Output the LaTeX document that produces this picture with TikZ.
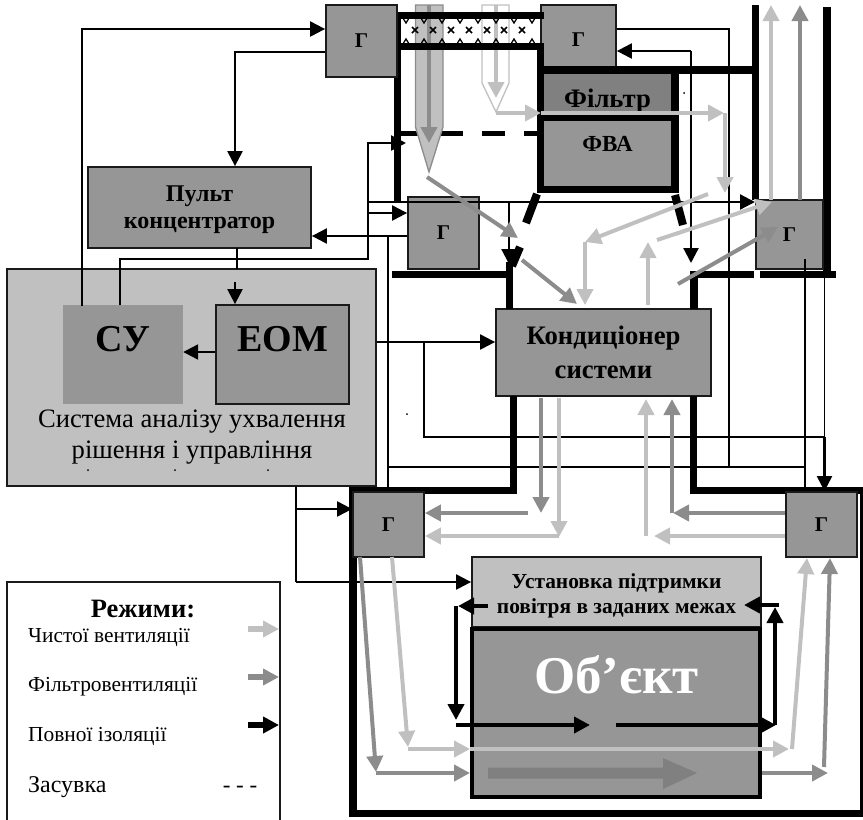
\documentclass[tikz,border=0pt]{standalone}
\usepackage{fontspec}
\setmainfont{Liberation Serif}
\usetikzlibrary{arrows.meta}
\definecolor{AirLight}{HTML}{C0C0C0}
\definecolor{AirGray}{HTML}{8C8C8C}
\definecolor{BoxGray}{HTML}{969696}
\definecolor{FiltGray}{HTML}{808080}
\definecolor{LineDark}{HTML}{1A1A1A}
\begin{document}
\begin{tikzpicture}[
  x=1pt,y=-1pt,
  box/.style={draw=LineDark,line width=1.8pt,fill=BoxGray,inner sep=0pt,
    align=center,font=\bfseries},
  panel/.style={box,fill=AirLight},
  valve/.style={box,minimum width=71pt,minimum height=70pt,font=\fontsize{21}{23}\selectfont\bfseries},
  wall/.style={line width=7.5pt,draw=black},
  flap/.style={line width=8pt,draw=black},
  clean/.style={-{Triangle[length=16pt,width=16pt]},line width=4pt,draw=AirLight},
  filtr/.style={-{Triangle[length=16pt,width=16pt]},line width=4pt,draw=AirGray},
  iso/.style={-{Triangle[length=16pt,width=16pt]},line width=4.5pt,draw=black},
  sig/.style={-{Triangle[length=15pt,width=15pt]},line width=2.2pt,draw=black},
  wire/.style={line width=1.6pt,draw=black},
  legend/.style={anchor=base west,inner sep=0pt}
]
\useasboundingbox (0,0) rectangle (863,820);

% big boxes
\node[panel,minimum width=369pt,minimum height=217pt] (sys) at (191.5,377.5) {};
\node[draw=none,fill=BoxGray,minimum width=120pt,minimum height=99pt,inner sep=0pt] (su) at (123,354.5) {};
\node[box,minimum width=133pt,minimum height=99pt] (eom) at (282.5,354.5) {};
\node[box,minimum width=223pt,minimum height=81pt] (pult) at (199.5,207.5) {};
\node[font=\fontsize{24}{27}\selectfont\bfseries,align=center,inner sep=0pt,anchor=base] (pulttext) at (199.5,228) {Пульт\\концентратор};
\node[box,minimum width=215pt,minimum height=87pt,font=\fontsize{26.7}{34}\selectfont\bfseries] (cond) at (603.5,352.5) {Кондиціонер\\системи};

% valve above the filter
\node[valve,minimum width=75pt] (g2) at (578.5,40) {Г};

% dashed damper
\draw[line width=5.5pt] (401,133.5) -- (463,133.5) (482,133.5) -- (505,133.5) (524,133.5) -- (537,133.5);

% probes
\draw[draw=AirGray,line width=1.3pt,fill=AirLight] (415.5,5) -- (443,5) -- (443,127) -- (429,172) -- (415.5,127) -- cycle;
\draw[draw=AirLight,line width=1.3pt,fill=white] (482,5) -- (509,5) -- (509,83) -- (496,112) -- (482,83) -- cycle;
\coordinate (ptop) at (429,5);
\coordinate (ptip) at (429,143);
\coordinate (qtop) at (496,5);
\coordinate (qtip) at (496,98);
\draw[filtr] (ptop) -- (ptip);
\draw[clean] (qtop) -- (qtip);

% duct walls
\draw[wall] (397.5,12) -- (397.5,201);
\draw[wall] (394,15.5) -- (544,15.5);
\draw[wall] (394,46.5) -- (544,46.5);
\draw[wall] (755.5,5) -- (755.5,200);
\draw[wall] (827,7) -- (827,271);
\draw[wall] (392,274.5) -- (513,274.5);
\draw[wall] (694,274.5) -- (754,274.5);
\draw[wall] (760,274.5) -- (836,274.5);
\draw[wall] (509.5,262) -- (509.5,309);
\draw[wall] (694,271) -- (694,309);
\draw[wall] (513.5,396) -- (513.5,490.5) -- (349,490.5);
\draw[wall] (693.5,396) -- (693.5,490.5) -- (863,490.5);
\draw[wall] (353,487) -- (353,813.5) -- (863,813.5);
\draw[line width=3.5pt] (861.5,487) -- (861.5,817);
\draw[flap] (537,194) -- (526,223);
\draw[flap] (520,247) -- (512,266);
\draw[flap] (675,195) -- (683,225);

% hatching
\foreach \hx in {415,433,451,469,487,504,522}{
  \draw[line width=1.5pt] (\hx-3,27) -- (\hx+3,33) (\hx+3,27) -- (\hx-3,33);
}
\foreach \hx in {406,424,442,460,478,496,514,532}{
  \draw[line width=1.3pt] (\hx-2.5,19) -- (\hx,23) -- (\hx+2.5,19);
  \draw[line width=1.3pt] (\hx-2.5,43) -- (\hx,39) -- (\hx+2.5,43);
}

% filter stack
\node[box,draw=none,fill=FiltGray,minimum width=127pt,minimum height=41pt] (filtr) at (607.5,94.5) {};
\node[box,draw=none,minimum width=127pt,minimum height=65pt] (fva) at (607.5,153.5) {};
\node[font=\fontsize{26.7}{28}\selectfont\bfseries,inner sep=0pt,anchor=base] (filtrtext) at (607.5,107) {Фільтр};
\node[font=\fontsize{23}{25}\selectfont\bfseries,inner sep=0pt] (fvatext) at (607.5,144) {ФВА};
\draw[wall] (540.5,46) -- (540.5,193);
\draw[wall] (675,70) -- (675,193);
\draw[wall] (537,189.5) -- (679,189.5);
\draw[wall] (540,70) -- (759,70);
\draw[line width=6pt] (544,118) -- (671,118);

% valves
\node[valve,minimum height=72pt] (g1) at (361.5,41) {Г};
\node[valve,minimum height=72pt] (g3) at (443.5,233) {Г};
\node[valve,minimum width=67pt,minimum height=69pt] (g4) at (789.5,234.5) {Г};
\node[valve,minimum height=65pt] (g5) at (388.5,524.5) {Г};
\node[valve,minimum height=65pt] (g6) at (821.5,524.5) {Г};

% object
\node[panel,minimum width=289pt,minimum height=70pt] (setup) at (616.5,592) {};
\node[font=\fontsize{21.4}{25}\selectfont\bfseries,align=center,inner sep=0pt,anchor=base] (setuptext) at (616.5,613) {Установка підтримки\\повітря в заданих межах};
\node[draw=black,line width=4.5pt,fill=BoxGray,minimum width=288pt,minimum height=168pt,inner sep=0pt] (obj) at (616,713) {};
\node[font=\fontsize{53}{57}\selectfont\bfseries,text=white,inner sep=0pt,anchor=base] (objtext) at (616.5,693) {Об’єкт};
\draw[fill=FiltGray,draw=none] (488,767.5) -- (663,767.5) -- (663,758) -- (697,773) -- (663,789) -- (663,778.5) -- (488,778.5) -- cycle;

% texts of the analysis block
\node[font=\fontsize{38}{40}\selectfont\bfseries,inner sep=0pt] (sutext) at (123,339) {СУ};
\node[font=\fontsize{38}{40}\selectfont\bfseries,inner sep=0pt] (eomtext) at (282.5,339) {ЕОМ};
\node[font=\fontsize{26.6}{31}\selectfont,align=center,inner sep=0pt,anchor=base] (systext) at (192,458) {Система аналізу ухвалення\\рішення і управління};
\foreach \dx/\dy in {88/470,175/470,268/470,407/414,684/93}{
  \fill (\dx,\dy) circle (1pt);
}

% control lines
\coordinate (c1) at (82,29);
\coordinate (c2) at (235,52);
\coordinate (c3) at (368,143);
\coordinate (c4) at (368,259);
\coordinate (c5) at (120,259);
\coordinate (c6) at (424,342);
\coordinate (c7) at (424,437);
\coordinate (c8) at (824.5,437);
\coordinate (c9) at (388,236);
\coordinate (c10) at (388,467);
\coordinate (c11) at (805,467);
\coordinate (c12) at (729,29);
\coordinate (c13) at (729,467);
\coordinate (c14) at (691,51);
\coordinate (c15) at (691,263);
\coordinate (c16) at (509,202);
\coordinate (c17) at (296,509);
\coordinate (c18) at (296,582);
\coordinate (c19) at (388,487);
\coordinate (c20) at (805,259);
\coordinate (c21) at (805,487);
\coordinate (c22) at (406,143);
\coordinate (c23) at (368,202);
\coordinate (c24) at (368,213);
\coordinate (c25) at (755,202);
\coordinate (c26) at (509,264);
\coordinate (c27) at (235,282);
\coordinate (c28) at (237,269);

\draw[sig] (82,306) -- (c1) -- (g1.west |- c1);
\draw[sig] (g1.west |- c2) -- (c2) -- (pult.north -| c2);
\draw[wire] (120,305) -- (c5) -- (c4) -- (c23);
\draw[sig] (c23) |- (c22);
\draw[sig] (c24) -- (g3.west |- c24);
\draw[sig] (c23) -- (c25);
\draw[sig] (c16) -- (c26);
\draw[sig] (g3.west |- c9) -- (pult.east |- c9);
\draw[wire] (c9) -- (c19);
\draw[wire] (c10) -- (c13) (c13) -- (c11);
\draw[wire] (g2.east |- c12) -- (c12) -- (c13);
\draw[wire] (c20) -- (c21);
\draw[sig] (c14) -- (g2.east |- c14);
\draw[sig] (c14) -- (c15);
\draw[wire] (237,248) -- (c28);
\draw[sig] (c27) -- (eom.north -| c27);
\draw[sig] (eom.west |- 0,352) -- (su.east |- 0,352);
\draw[sig] (sys.east |- c6) -- (cond.west |- c6);
\draw[wire] (c6) -- (c7) -- (c8);
\draw[sig] (c8) -- (g6.north -| c8);
\draw[wire] (824.5,265) -- (c8);
\draw[wire] (c18 |- sys.south) -- (c18);
\draw[sig] (c17) -- (g5.west |- c17);
\draw[sig] (c18) -- (setup.west |- c18);

% upper air paths
\draw[clean] (496,113) -- (541,113);
\draw[clean] (541,113) -- (724,113);
\draw[clean] (725,113) -- (725,193);
\draw[filtr] (427,177) -- (518,238);
\draw[filtr] (522,260) -- (577,304);
\draw[clean] (708,194) -- (585,242);
\draw[clean] (585,242) -- (585,305);
\draw[clean] (648,305) -- (648,242);
\draw[clean] (657,240) -- (772,202);
\draw[filtr] (678,284) -- (778,227);
\draw[clean] (771,200) -- (771,5);
\draw[filtr] (800,200) -- (800,5);

% lower air paths
\draw[filtr] (541,398) -- (541,513);
\draw[filtr] (528,513) -- (g5.east |- 0,513);
\draw[clean] (559,398) -- (559,537);
\draw[clean] (559,536) -- (g5.east |- 0,536);
\draw[clean] (646,536) -- (646,399);
\draw[filtr] (g6.west |- 0,513) -- (673,513);
\draw[filtr] (672,513) -- (672,399);
\draw[clean] (g6.west |- 0,536) -- (654,536);
\draw[filtr] (360,557) -- (376,772);
\draw[clean] (392,557) -- (408,747);
\draw[clean] (408,749) -- (470,749);
\draw[clean] (470,749) -- (789,749);
\draw[clean] (792,749) -- (807,558);
\draw[filtr] (376,773) -- (470,773);
\draw[filtr] (762,773) -- (828,773);
\draw[filtr] (824,767) -- (830,558);

% isolation loop
\draw[iso] (488,606) -- (458,606);
\draw[iso] (456,606) -- (456,720);
\draw[iso] (456,725) -- (590,725);
\draw[iso] (616,725) -- (776,725);
\draw[iso] (775,725) -- (775,607);
\draw[iso] (779,605) -- (744,605);

% legend
\draw[line width=1.8pt,draw=LineDark] (7,820) -- (7,582) -- (280,582) -- (280,820);
\node[font=\fontsize{26.5}{28}\selectfont\bfseries,inner sep=0pt,anchor=base] (modes) at (143,617) {Режими:};
\node[legend,font=\fontsize{21.4}{24}\selectfont] (mclean) at (28,642) {Чистої вентиляції};
\node[legend,font=\fontsize{21.4}{24}\selectfont] (mfiltr) at (28,691) {Фільтровентиляції};
\node[legend,font=\fontsize{21.4}{24}\selectfont] (miso) at (28,741) {Повної ізоляції};
\node[legend,font=\fontsize{24}{26}\selectfont] (mgate) at (28,792) {Засувка};
\node[font=\fontsize{23}{25}\selectfont,inner sep=0pt,anchor=base] (mdash) at (240,792) {- - -};
\coordinate (lclean) at (248,629);
\coordinate (lfiltr) at (248,677);
\coordinate (liso) at (248,725);
\draw[clean,line width=5.5pt] (lclean) -- (279,629);
\draw[filtr,line width=5.5pt] (lfiltr) -- (279,677);
\draw[iso,line width=5.5pt] (liso) -- (279,725);
\end{tikzpicture}
\end{document}
